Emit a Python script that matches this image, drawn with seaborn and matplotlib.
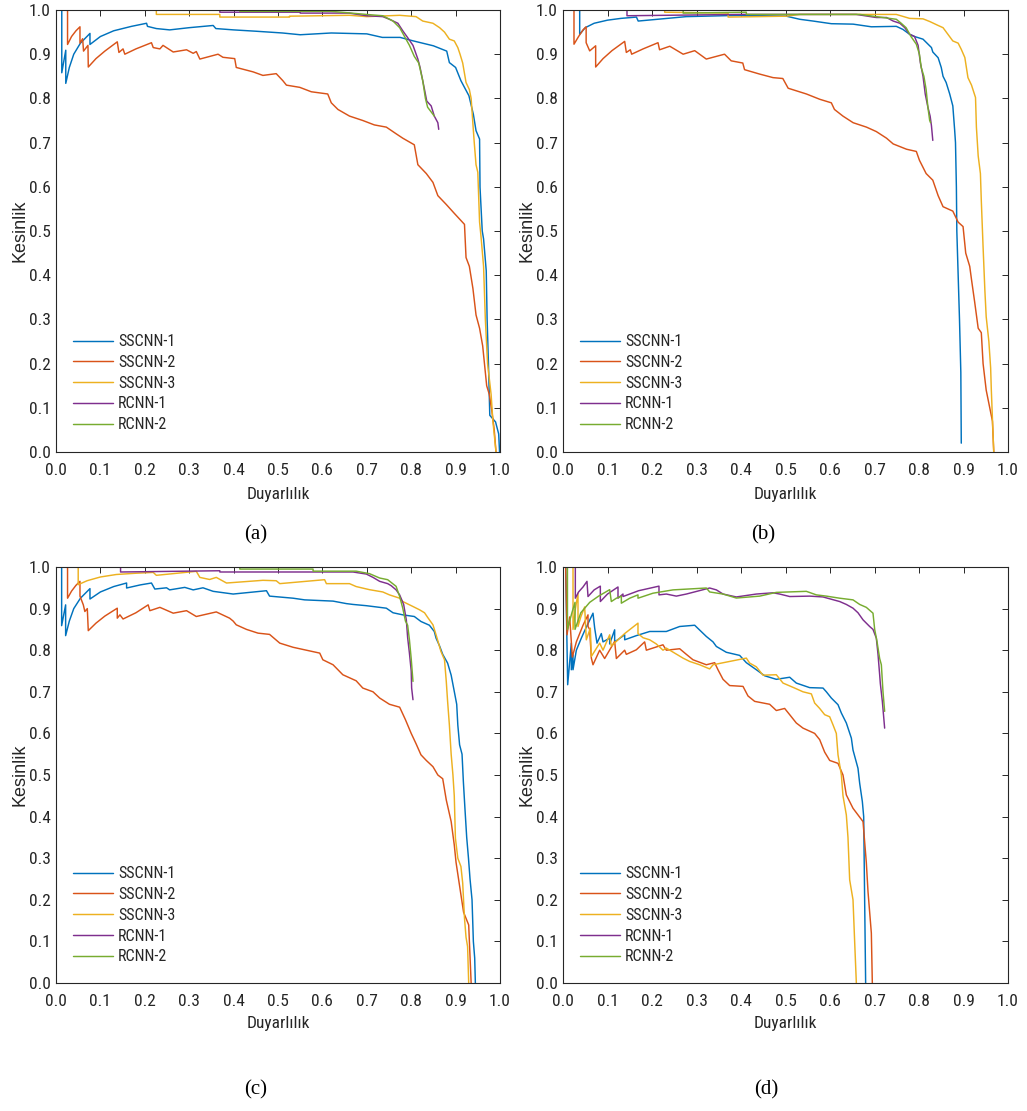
import numpy as np
import pandas as pd
import matplotlib
matplotlib.use("Agg")
import matplotlib.pyplot as plt
from matplotlib import font_manager
import seaborn as sns

# ---------------- data ----------------
MODELS = ["SSCNN-1", "SSCNN-2", "SSCNN-3", "RCNN-1", "RCNN-2"]
COLORS = ["#0072BD", "#D95319", "#EDB120", "#7E2F8E", "#77AC30"]
PANEL_LABELS = ["(a)", "(b)", "(c)", "(d)"]
TICKS = [0.0, 0.1, 0.2, 0.3, 0.4, 0.5, 0.6, 0.7, 0.8, 0.9, 1.0]
TICK_LABELS = ["0.0", "0.1", "0.2", "0.3", "0.4", "0.5", "0.6", "0.7", "0.8", "0.9", "1.0"]

# Panel (a): (recall, precision)
A_SSCNN1 = [(0.013,1.0),(0.013,0.858),(0.022,0.909),(0.022,0.834),(0.03,0.87),(0.04,0.90),(0.055,0.925),(0.0765,0.947),(0.0765,0.922),(0.1,0.94),(0.13,0.953),(0.17,0.963),(0.204,0.970),(0.206,0.963),(0.226,0.958),(0.256,0.955),(0.30,0.96),(0.354,0.965),(0.36,0.958),(0.40,0.955),(0.45,0.952),(0.51,0.948),(0.55,0.944),(0.62,0.948),(0.70,0.946),(0.735,0.938),(0.775,0.938),(0.805,0.93),(0.85,0.919),(0.88,0.907),(0.886,0.881),(0.90,0.87),(0.912,0.84),(0.93,0.806),(0.94,0.764),(0.946,0.727),(0.954,0.708),(0.955,0.599),(0.96,0.50),(0.963,0.482),(0.969,0.41),(0.971,0.30),(0.974,0.20),(0.977,0.083),(0.99,0.068),(0.997,0.041),(0.999,0.0)]
A_SSCNN2 = [(0.026,1.0),(0.026,0.922),(0.035,0.94),(0.045,0.953),(0.054,0.962),(0.054,0.925),(0.06,0.935),(0.062,0.907),(0.072,0.92),(0.0727,0.871),(0.09,0.89),(0.11,0.907),(0.138,0.928),(0.1417,0.904),(0.151,0.912),(0.155,0.900),(0.18,0.912),(0.215,0.926),(0.219,0.915),(0.234,0.912),(0.241,0.92),(0.264,0.905),(0.294,0.91),(0.309,0.902),(0.316,0.906),(0.324,0.889),(0.365,0.90),(0.376,0.893),(0.4025,0.89),(0.406,0.87),(0.444,0.86),(0.466,0.852),(0.496,0.856),(0.511,0.84),(0.519,0.83),(0.549,0.825),(0.575,0.815),(0.612,0.81),(0.62,0.79),(0.635,0.775),(0.661,0.76),(0.691,0.75),(0.717,0.74),(0.744,0.735),(0.766,0.72),(0.781,0.71),(0.807,0.695),(0.815,0.65),(0.834,0.63),(0.849,0.61),(0.86,0.58),(0.879,0.56),(0.897,0.54),(0.92,0.515),(0.9235,0.44),(0.931,0.42),(0.939,0.37),(0.946,0.31),(0.954,0.28),(0.961,0.24),(0.965,0.2),(0.970,0.15),(0.976,0.13),(0.982,0.09),(0.987,0.05),(0.991,0.0)]
A_SSCNN3 = [(0.0,1.0),(0.226,1.0),(0.226,0.99),(0.369,0.99),(0.369,0.984),(0.526,0.984),(0.526,0.986),(0.661,0.988),(0.7,0.985),(0.774,0.988),(0.811,0.985),(0.826,0.975),(0.849,0.97),(0.864,0.96),(0.875,0.95),(0.886,0.934),(0.897,0.93),(0.905,0.915),(0.910,0.90),(0.916,0.88),(0.9235,0.836),(0.931,0.82),(0.935,0.80),(0.939,0.742),(0.942,0.70),(0.946,0.65),(0.950,0.633),(0.954,0.52),(0.957,0.49),(0.963,0.42),(0.967,0.30),(0.972,0.20),(0.980,0.13),(0.984,0.07),(0.989,0.02),(0.991,0.0)]
A_RCNN1 = [(0.0,1.0),(0.369,1.0),(0.369,0.995),(0.55,0.995),(0.55,0.993),(0.66,0.993),(0.699,0.987),(0.736,0.985),(0.751,0.979),(0.770,0.97),(0.781,0.953),(0.792,0.9375),(0.804,0.92),(0.815,0.889),(0.82,0.87),(0.826,0.84),(0.83,0.82),(0.835,0.794),(0.845,0.783),(0.852,0.76),(0.86,0.745),(0.862,0.73)]
A_RCNN2 = [(0.0,1.0),(0.414,1.0),(0.414,0.997),(0.62,0.997),(0.699,0.99),(0.736,0.987),(0.759,0.975),(0.774,0.96),(0.785,0.94),(0.796,0.92),(0.807,0.895),(0.817,0.88),(0.826,0.84),(0.832,0.80),(0.837,0.78),(0.849,0.764),(0.852,0.76)]

# Panel (b)
B_SSCNN1 = [(0.0375,1.0),(0.0375,0.945),(0.05,0.96),(0.07,0.97),(0.1,0.977),(0.13,0.981),(0.165,0.984),(0.169,0.975),(0.277,0.985),(0.4,0.988),(0.502,0.986),(0.532,0.979),(0.562,0.975),(0.603,0.969),(0.652,0.968),(0.693,0.962),(0.749,0.963),(0.764,0.956),(0.779,0.945),(0.790,0.94),(0.809,0.934),(0.828,0.915),(0.831,0.905),(0.843,0.892),(0.850,0.87),(0.854,0.85),(0.861,0.836),(0.869,0.81),(0.876,0.783),(0.880,0.73),(0.882,0.70),(0.884,0.60),(0.885,0.50),(0.888,0.40),(0.891,0.30),(0.894,0.18),(0.895,0.02)]
B_SSCNN2 = [(0.0247,1.0),(0.0247,0.9226),(0.035,0.94),(0.045,0.955),(0.052,0.962),(0.052,0.926),(0.060,0.9075),(0.0734,0.919),(0.0734,0.871),(0.09,0.89),(0.11,0.908),(0.1386,0.929),(0.1423,0.904),(0.1513,0.91),(0.1543,0.90),(0.18,0.912),(0.2135,0.926),(0.217,0.91),(0.24,0.918),(0.27,0.90),(0.296,0.908),(0.322,0.889),(0.363,0.90),(0.378,0.885),(0.404,0.88),(0.408,0.865),(0.442,0.855),(0.472,0.847),(0.494,0.845),(0.506,0.823),(0.547,0.81),(0.577,0.798),(0.603,0.79),(0.610,0.775),(0.629,0.76),(0.652,0.745),(0.682,0.735),(0.704,0.725),(0.727,0.71),(0.742,0.697),(0.772,0.685),(0.794,0.68),(0.801,0.66),(0.816,0.63),(0.831,0.615),(0.843,0.58),(0.854,0.555),(0.876,0.545),(0.888,0.52),(0.899,0.51),(0.905,0.45),(0.914,0.42),(0.918,0.39),(0.925,0.34),(0.933,0.28),(0.940,0.27),(0.944,0.20),(0.951,0.14),(0.959,0.10),(0.965,0.07),(0.968,0.0)]
B_SSCNN3 = [(0.0,1.0),(0.2285,1.0),(0.2285,0.995),(0.371,0.993),(0.371,0.984),(0.502,0.986),(0.532,0.99),(0.727,0.99),(0.749,0.99),(0.779,0.981),(0.809,0.98),(0.824,0.974),(0.843,0.965),(0.854,0.96),(0.865,0.945),(0.876,0.93),(0.888,0.925),(0.895,0.911),(0.903,0.8925),(0.910,0.847),(0.918,0.83),(0.927,0.802),(0.929,0.735),(0.933,0.67),(0.938,0.63),(0.940,0.569),(0.944,0.464),(0.948,0.366),(0.951,0.306),(0.957,0.25),(0.961,0.19),(0.9625,0.141),(0.966,0.05),(0.968,0.0)]
B_RCNN1 = [(0.0,1.0),(0.1438,1.0),(0.1438,0.987),(0.40,0.99),(0.659,0.99),(0.704,0.983),(0.727,0.983),(0.742,0.975),(0.757,0.97),(0.768,0.96),(0.779,0.945),(0.790,0.94),(0.798,0.92),(0.803,0.881),(0.809,0.85),(0.814,0.81),(0.820,0.78),(0.825,0.76),(0.828,0.738),(0.831,0.705)]
B_RCNN2 = [(0.0,1.0),(0.27,1.0),(0.27,0.993),(0.412,0.995),(0.412,0.99),(0.667,0.99),(0.704,0.985),(0.749,0.979),(0.760,0.97),(0.771,0.96),(0.782,0.94),(0.794,0.9226),(0.801,0.90),(0.805,0.87),(0.811,0.85),(0.816,0.82),(0.820,0.78),(0.824,0.75),(0.826,0.745)]

# Panel (c)
C_SSCNN1 = [(0.0127,1.0),(0.0127,0.859),(0.0217,0.909),(0.0217,0.835),(0.03,0.87),(0.04,0.90),(0.055,0.925),(0.0765,0.948),(0.0765,0.923),(0.1,0.94),(0.13,0.953),(0.159,0.9615),(0.159,0.9495),(0.19,0.957),(0.215,0.9615),(0.2226,0.947),(0.249,0.95),(0.256,0.945),(0.290,0.951),(0.309,0.945),(0.331,0.95),(0.354,0.9415),(0.399,0.935),(0.474,0.943),(0.481,0.93),(0.534,0.925),(0.56,0.921),(0.624,0.918),(0.654,0.912),(0.669,0.91),(0.699,0.907),(0.744,0.901),(0.759,0.89),(0.781,0.885),(0.807,0.881),(0.822,0.869),(0.841,0.86),(0.852,0.845),(0.856,0.829),(0.864,0.81),(0.871,0.79),(0.882,0.769),(0.890,0.74),(0.897,0.701),(0.9025,0.67),(0.905,0.62),(0.909,0.5725),(0.9145,0.55),(0.9175,0.484),(0.921,0.42),(0.925,0.35),(0.929,0.30),(0.9325,0.25),(0.937,0.20),(0.940,0.10),(0.943,0.06),(0.9445,0.0)]
C_SSCNN2 = [(0.026,1.0),(0.026,0.925),(0.035,0.942),(0.045,0.956),(0.054,0.9655),(0.054,0.93),(0.0615,0.909),(0.065,0.893),(0.0705,0.90),(0.0727,0.847),(0.09,0.865),(0.11,0.882),(0.138,0.901),(0.138,0.877),(0.144,0.885),(0.151,0.875),(0.18,0.89),(0.2076,0.909),(0.2114,0.895),(0.234,0.903),(0.264,0.889),(0.294,0.895),(0.316,0.881),(0.361,0.892),(0.391,0.877),(0.399,0.87),(0.406,0.861),(0.429,0.85),(0.455,0.841),(0.481,0.838),(0.504,0.817),(0.534,0.807),(0.564,0.80),(0.594,0.793),(0.601,0.777),(0.624,0.765),(0.646,0.741),(0.676,0.7265),(0.691,0.709),(0.714,0.70),(0.729,0.685),(0.751,0.67),(0.774,0.663),(0.787,0.633),(0.80,0.60),(0.811,0.575),(0.822,0.5485),(0.834,0.535),(0.849,0.52),(0.86,0.50),(0.871,0.491),(0.879,0.44),(0.890,0.388),(0.897,0.332),(0.901,0.29),(0.9123,0.21),(0.918,0.17),(0.9295,0.1395),(0.935,0.0)]
C_SSCNN3 = [(0.0,1.0),(0.05,1.0),(0.05,0.9575),(0.07,0.967),(0.1,0.976),(0.136,0.982),(0.18,0.985),(0.219,0.987),(0.226,0.98),(0.316,0.9896),(0.324,0.975),(0.346,0.97),(0.361,0.975),(0.384,0.9615),(0.466,0.968),(0.496,0.967),(0.504,0.96),(0.605,0.9695),(0.609,0.96),(0.661,0.96),(0.676,0.953),(0.706,0.9455),(0.736,0.94),(0.751,0.933),(0.774,0.925),(0.781,0.917),(0.804,0.905),(0.819,0.897),(0.83,0.89),(0.837,0.879),(0.849,0.861),(0.856,0.837),(0.867,0.797),(0.875,0.777),(0.879,0.725),(0.882,0.677),(0.886,0.62),(0.89,0.55),(0.894,0.50),(0.897,0.45),(0.8996,0.348),(0.905,0.30),(0.912,0.28),(0.916,0.24),(0.92,0.156),(0.9235,0.11),(0.927,0.0874),(0.9295,0.0)]
C_RCNN1 = [(0.0,1.0),(0.1454,1.0),(0.1454,0.988),(0.369,0.991),(0.369,0.988),(0.669,0.988),(0.699,0.983),(0.714,0.975),(0.729,0.9655),(0.747,0.96),(0.755,0.955),(0.766,0.945),(0.774,0.933),(0.783,0.91),(0.789,0.873),(0.792,0.83),(0.796,0.793),(0.80,0.75),(0.801,0.709),(0.804,0.681)]
C_RCNN2 = [(0.0,1.0),(0.414,1.0),(0.414,0.995),(0.579,0.995),(0.579,0.99),(0.676,0.99),(0.706,0.984),(0.729,0.9735),(0.747,0.9695),(0.766,0.9535),(0.774,0.929),(0.781,0.901),(0.787,0.87),(0.792,0.86),(0.796,0.825),(0.80,0.78),(0.804,0.725)]

# Panel (d)
D_SSCNN1 = [(0.006,1.0),(0.0105,0.717),(0.0187,0.817),(0.0187,0.753),(0.0225,0.789),(0.0225,0.753),(0.03,0.80),(0.0412,0.829),(0.05,0.85),(0.0674,0.889),(0.0712,0.853),(0.0764,0.817),(0.0861,0.84),(0.0899,0.82),(0.1049,0.829),(0.1049,0.815),(0.1161,0.849),(0.1161,0.82),(0.1386,0.837),(0.1386,0.825),(0.1648,0.835),(0.1948,0.845),(0.2322,0.845),(0.2622,0.857),(0.2959,0.86),(0.3221,0.833),(0.3371,0.82),(0.3446,0.809),(0.367,0.795),(0.397,0.7875),(0.412,0.77),(0.4345,0.753),(0.4532,0.7385),(0.4794,0.73),(0.5094,0.735),(0.5243,0.721),(0.5543,0.71),(0.5843,0.709),(0.5918,0.70),(0.603,0.685),(0.618,0.669),(0.6255,0.649),(0.6367,0.625),(0.648,0.5886),(0.6517,0.56),(0.6629,0.516),(0.6667,0.48),(0.6727,0.436),(0.6757,0.40),(0.6779,0.196),(0.6801,0.0)]
D_SSCNN2 = [(0.006,1.0),(0.009,0.837),(0.015,0.88),(0.021,0.7835),(0.03,0.82),(0.045,0.86),(0.0562,0.885),(0.0562,0.857),(0.0599,0.85),(0.0637,0.781),(0.0674,0.765),(0.0824,0.80),(0.0936,0.78),(0.1161,0.821),(0.1199,0.78),(0.1386,0.80),(0.1423,0.79),(0.1648,0.801),(0.1835,0.82),(0.1873,0.80),(0.2247,0.813),(0.2322,0.80),(0.2622,0.8035),(0.2772,0.79),(0.2921,0.777),(0.3221,0.765),(0.3408,0.77),(0.3483,0.753),(0.3596,0.73),(0.3745,0.715),(0.4045,0.713),(0.4157,0.69),(0.4307,0.677),(0.4644,0.67),(0.4794,0.655),(0.4981,0.66),(0.5094,0.645),(0.5243,0.625),(0.5393,0.6127),(0.5655,0.60),(0.5768,0.585),(0.588,0.555),(0.5993,0.535),(0.618,0.528),(0.6292,0.50),(0.6367,0.452),(0.6517,0.42),(0.6742,0.388),(0.6816,0.29),(0.6854,0.2197),(0.6929,0.12),(0.6951,0.0)]
D_SSCNN3 = [(0.0225,1.0),(0.0225,0.85),(0.028,0.90),(0.0337,0.937),(0.0337,0.857),(0.04,0.88),(0.0487,0.904),(0.0524,0.825),(0.0614,0.853),(0.0637,0.785),(0.0824,0.817),(0.0899,0.80),(0.1049,0.837),(0.1086,0.81),(0.1386,0.84),(0.1685,0.865),(0.1685,0.84),(0.1798,0.83),(0.1948,0.825),(0.2097,0.815),(0.2247,0.80),(0.2322,0.805),(0.2697,0.781),(0.2846,0.773),(0.3071,0.765),(0.3296,0.755),(0.3371,0.765),(0.412,0.781),(0.4195,0.769),(0.4345,0.76),(0.4494,0.74),(0.4794,0.741),(0.4944,0.721),(0.5206,0.709),(0.5393,0.70),(0.5581,0.695),(0.5655,0.673),(0.5768,0.66),(0.588,0.645),(0.5993,0.64),(0.6067,0.6207),(0.6142,0.60),(0.618,0.5485),(0.6255,0.50),(0.6292,0.45),(0.6367,0.404),(0.6404,0.35),(0.6442,0.248),(0.6517,0.20),(0.6554,0.0994),(0.6592,0.0)]
D_RCNN1 = [(0.0277,1.0),(0.0277,0.925),(0.035,0.94),(0.045,0.952),(0.0539,0.9655),(0.0562,0.929),(0.07,0.945),(0.0839,0.954),(0.0839,0.917),(0.1,0.935),(0.1236,0.952),(0.1236,0.925),(0.1348,0.935),(0.1348,0.929),(0.17,0.943),(0.2157,0.954),(0.2157,0.933),(0.2322,0.935),(0.2547,0.93),(0.2772,0.935),(0.3296,0.9495),(0.3446,0.945),(0.3596,0.935),(0.3895,0.928),(0.4345,0.935),(0.4719,0.938),(0.4869,0.935),(0.5094,0.929),(0.5543,0.93),(0.5843,0.928),(0.6217,0.917),(0.6367,0.91),(0.6517,0.901),(0.6629,0.89),(0.6742,0.873),(0.6891,0.857),(0.6966,0.85),(0.7041,0.829),(0.7079,0.79),(0.7116,0.741),(0.7131,0.72),(0.7176,0.677),(0.7206,0.64),(0.7228,0.6127)]
D_RCNN2 = [(0.01,1.0),(0.01,0.85),(0.02,0.89),(0.027,0.915),(0.027,0.85),(0.04,0.89),(0.06,0.915),(0.08,0.93),(0.1049,0.9455),(0.1086,0.917),(0.12,0.925),(0.1311,0.93),(0.1311,0.913),(0.15,0.925),(0.1685,0.933),(0.1685,0.925),(0.2022,0.937),(0.2472,0.945),(0.3221,0.9495),(0.3296,0.94),(0.3596,0.935),(0.3895,0.9254),(0.442,0.93),(0.4794,0.939),(0.5468,0.9415),(0.5693,0.933),(0.5918,0.93),(0.6217,0.925),(0.6517,0.921),(0.6667,0.91),(0.6816,0.903),(0.6966,0.889),(0.7004,0.85),(0.7056,0.821),(0.7116,0.78),(0.7154,0.765),(0.7191,0.70),(0.7228,0.653)]

PANELS = [
    [A_SSCNN1, A_SSCNN2, A_SSCNN3, A_RCNN1, A_RCNN2],
    [B_SSCNN1, B_SSCNN2, B_SSCNN3, B_RCNN1, B_RCNN2],
    [C_SSCNN1, C_SSCNN2, C_SSCNN3, C_RCNN1, C_RCNN2],
    [D_SSCNN1, D_SSCNN2, D_SSCNN3, D_RCNN1, D_RCNN2],
]

# ---------------- style ----------------
sns.set_style("white")


def has_font(name):
    try:
        font_manager.findfont(font_manager.FontProperties(family=name), fallback_to_default=False)
        return True
    except Exception:
        return False


def find_narrow():
    """Look for an installed narrow / condensed sans face (regular weight)."""
    best = None
    best_score = -1
    for f in font_manager.fontManager.ttflist:
        name = f.name.lower()
        fn = f.fname.lower()
        st = str(f.stretch).lower()
        narrow = ("narrow" in name or "narrow" in fn or "condensed" in name
                  or "condensed" in fn or st in ("condensed", "semi-condensed"))
        if not narrow:
            continue
        if "extra" in fn or "ultra" in fn or "extra" in st or "ultra" in st:
            continue
        if any(k in fn for k in ("mono", "serif", "cjk", "bold", "italic", "light", "thin",
                                 "black", "medium", "semibold", "oblique", "display")):
            continue
        if f.style != "normal":
            continue
        score = 1
        if "liberation" in fn:
            score = 6
        elif "roboto" in fn:
            score = 5
        elif "notosans" in fn:
            score = 4
        elif "opensans" in fn or "open" in fn:
            score = 3
        elif "dejavu" in fn:
            score = 2
        if "semi" in fn:
            score -= 0.5
        if score > best_score:
            best_score = score
            best = f.fname
    return best


NARROW_FILE = find_narrow()
REG_FAMILY = "Liberation Sans" if has_font("Liberation Sans") else "DejaVu Sans"
SERIF = "Liberation Serif" if has_font("Liberation Serif") else "DejaVu Serif"
plt.rcParams["font.family"] = [REG_FAMILY, "DejaVu Sans"]


def hfont(size):
    if NARROW_FILE:
        return font_manager.FontProperties(fname=NARROW_FILE, size=size)
    return font_manager.FontProperties(family=REG_FAMILY, size=size * 0.93)


AX_COLOR = "#262626"
W, H = 1027, 1111
fig = plt.figure(figsize=(W / 100, H / 100), dpi=100)

# axes boxes in pixels: left, top, right, bottom
BOXES = [(56, 10, 500, 452), (563, 10, 1008, 452), (56, 567, 500, 983), (563, 567, 1008, 983)]
LABEL_POS = [(256, 535), (763, 535), (256, 1090), (766, 1090)]

for i, (box, curves) in enumerate(zip(BOXES, PANELS)):
    l, t, r, b = box
    ax = fig.add_axes([l / W, 1 - b / H, (r - l) / W, (b - t) / H])
    rows = []
    for model, pts in zip(MODELS, curves):
        for k, (x, y) in enumerate(pts):
            rows.append({"model": model, "k": k, "recall": x, "precision": y})
    df = pd.DataFrame(rows)
    sns.lineplot(data=df, x="recall", y="precision", hue="model", hue_order=MODELS,
                 palette=COLORS, sort=False, estimator=None, linewidth=1.05,
                 legend=False, ax=ax)
    ax.set_xlim(0, 1)
    ax.set_ylim(0, 1)
    ax.set_xticks(TICKS)
    ax.set_xticklabels(TICK_LABELS)
    ax.set_yticks(TICKS)
    ax.set_yticklabels(TICK_LABELS)
    ax.tick_params(direction="in", top=True, right=True, length=4, width=0.7,
                   color=AX_COLOR, labelcolor=AX_COLOR)
    ax.tick_params(axis="x", pad=8)
    ax.tick_params(axis="y", pad=4)
    for lab in ax.get_xticklabels() + ax.get_yticklabels():
        lab.set_fontproperties(hfont(12.5))
    for sp in ax.spines.values():
        sp.set_visible(True)
        sp.set_color(AX_COLOR)
        sp.set_linewidth(0.8)
    ax.set_xlabel("Duyarlılık", fontproperties=hfont(12.5), color=AX_COLOR)
    ax.set_ylabel("Kesinlik", fontsize=13, color=AX_COLOR)
    ax.xaxis.set_label_coords(0.5, -0.080)
    ax.yaxis.set_label_coords(-0.062, 0.5)
    handles = ax.get_lines()[:5]
    ax.legend(handles, MODELS, loc="lower left", bbox_to_anchor=(0.038, 0.045),
              frameon=False, prop=hfont(11.5), handlelength=2.5, handletextpad=0.32,
              labelspacing=0.36, borderpad=0, borderaxespad=0)
    fig.text(LABEL_POS[i][0] / W, 1 - LABEL_POS[i][1] / H, PANEL_LABELS[i],
             ha="center", va="center", fontsize=15, family=SERIF, color="black")

fig.savefig("out.png", dpi=100, facecolor="white")
